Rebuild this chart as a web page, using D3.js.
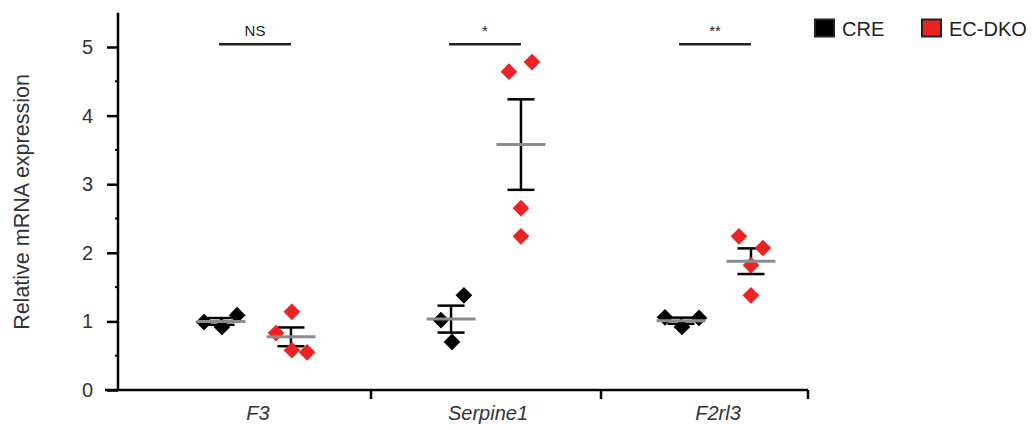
<!DOCTYPE html>
<html>
<head>
<meta charset="utf-8">
<script src="https://cdn.jsdelivr.net/npm/d3@7"></script>
<style>
  body { margin: 0; background: #fff; }
  svg { font-family: "Liberation Sans", Arial, sans-serif; }
</style>
</head>
<body>
<svg id="chart" width="1036" height="430"></svg>
<script>
// data
const genes = ["F3", "Serpine1", "F2rl3"];
const groups = ["CRE", "EC-DKO"];
const creValues = [
  [0.99, 0.92, 1.09],
  [1.38, 1.02, 0.70],
  [1.06, 0.92, 1.05]
];
const dkoValues = [
  [0.83, 1.14, 0.58, 0.55],
  [4.78, 4.64, 2.65, 2.24],
  [2.24, 2.07, 1.82, 1.38]
];
// horizontal scatter of points inside a group (in category units)
const creJitter = [
  [-0.074, 0.004, 0.07],
  [0.056, -0.044, 0.004],
  [-0.07, 0.004, 0.078]
];
const dkoJitter = [
  [-0.065, 0.004, 0.004, 0.07],
  [0.048, -0.052, 0, 0],
  [-0.052, 0.052, 0, 0]
];
const sigLabels = ["NS", "*", "**"];
const yTicks = [0, 1, 2, 3, 4, 5];

const colors = { "CRE": "#000000", "EC-DKO": "#ed2224" };
const groupOffset = { "CRE": -0.152, "EC-DKO": 0.152 };

const svg = d3.select("#chart");

const x = d3.scaleLinear().domain([-0.6, 2.4]).range([118, 808]);
const y = d3.scaleLinear().domain([0, 5.5]).range([390, 12.7]);

// y axis
const yAxis = svg.append("g").attr("transform", "translate(118,0)");
yAxis.call(d3.axisLeft(y).tickValues(yTicks).tickSize(11).tickPadding(14).tickFormat(d3.format("d")));
yAxis.select(".domain").attr("stroke-width", 2.5).attr("d", `M0,${y(5.5)}V${y(0)}`);
yAxis.selectAll(".tick line").attr("stroke-width", 2.5);
yAxis.selectAll(".tick text").attr("font-size", 20).attr("fill", "#333");
yAxis.selectAll(".minor")
  .data(d3.range(0.5, 5.5, 1))
  .join("line")
  .attr("class", "minor")
  .attr("x1", -3).attr("x2", 0)
  .attr("y1", d => y(d)).attr("y2", d => y(d))
  .attr("stroke", "#000").attr("stroke-width", 2);

// x axis
const xAxis = svg.append("g").attr("transform", "translate(0,390)");
xAxis.append("line")
  .attr("x1", 105).attr("x2", x(2.4))
  .attr("stroke", "#000").attr("stroke-width", 2.5);
xAxis.selectAll(".xt")
  .data([0.5, 1.5, 2.4])
  .join("line")
  .attr("class", "xt")
  .attr("x1", d => x(d)).attr("x2", d => x(d))
  .attr("y1", 0).attr("y2", 9)
  .attr("stroke", "#000").attr("stroke-width", 2.5);
xAxis.selectAll(".xl")
  .data(genes)
  .join("text")
  .attr("class", "xl")
  .attr("x", (d, i) => x(i) + 2)
  .attr("y", 30)
  .attr("text-anchor", "middle")
  .attr("font-size", 20)
  .attr("font-style", "italic")
  .attr("fill", "#333")
  .text(d => d);

// y title
svg.append("text")
  .attr("transform", "translate(29,202) rotate(-90)")
  .attr("text-anchor", "middle")
  .attr("font-size", 21.5)
  .attr("fill", "#333")
  .text("Relative mRNA expression");

// summary marks (mean + SEM)
const series = [];
genes.forEach((g, i) => {
  series.push({ gene: i, group: "CRE", values: creValues[i], jitter: creJitter[i] });
  series.push({ gene: i, group: "EC-DKO", values: dkoValues[i], jitter: dkoJitter[i] });
});

series.forEach(s => {
  const cx = x(s.gene + groupOffset[s.group]);
  const m = d3.mean(s.values);
  const sem = d3.deviation(s.values) / Math.sqrt(s.values.length);
  const g = svg.append("g");
  g.append("line")
    .attr("x1", cx).attr("x2", cx)
    .attr("y1", y(m + sem)).attr("y2", y(m - sem))
    .attr("stroke", "#000").attr("stroke-width", 2.5);
  [m + sem, m - sem].forEach(v => {
    g.append("line")
      .attr("x1", cx - 13.5).attr("x2", cx + 13.5)
      .attr("y1", y(v)).attr("y2", y(v))
      .attr("stroke", "#000").attr("stroke-width", 2.5);
  });
  s.mean = m;
  s.cx = cx;
});

// points
const diamond = d3.symbol().type(d3.symbolSquare).size(140);
series.forEach(s => {
  svg.append("g")
    .selectAll("path")
    .data(s.values)
    .join("path")
    .attr("d", diamond)
    .attr("transform", (d, k) => `translate(${x(s.gene + groupOffset[s.group] + s.jitter[k])},${y(d)}) rotate(45)`)
    .attr("fill", colors[s.group]);
});

// mean lines on top
series.forEach(s => {
  svg.append("line")
    .attr("x1", s.cx - 24.5).attr("x2", s.cx + 24.5)
    .attr("y1", y(s.mean)).attr("y2", y(s.mean))
    .attr("stroke", "#8c8c8c").attr("stroke-width", 3);
});

// significance bars
genes.forEach((g, i) => {
  const x1 = x(i + groupOffset["CRE"]);
  const x2 = x(i + groupOffset["EC-DKO"]);
  svg.append("line")
    .attr("x1", x1 - 2).attr("x2", x2)
    .attr("y1", y(5.04)).attr("y2", y(5.04))
    .attr("stroke", "#222").attr("stroke-width", 2.5);
  svg.append("text")
    .attr("x", (x1 + x2) / 2 - 1)
    .attr("y", y(5.04) - 8)
    .attr("text-anchor", "middle")
    .attr("font-size", 15)
    .attr("fill", "#222")
    .text(sigLabels[i]);
});

// legend
const legendX = [815, 922];
const legend = svg.append("g");
groups.forEach((gname, i) => {
  legend.append("rect")
    .attr("x", legendX[i]).attr("y", 19.5)
    .attr("width", 19).attr("height", 17)
    .attr("fill", colors[gname])
    .attr("stroke", "#222").attr("stroke-width", 2);
  legend.append("text")
    .attr("x", legendX[i] + 27).attr("y", 36)
    .attr("font-size", 20)
    .attr("fill", "#222")
    .text(gname);
});
</script>
</body>
</html>
